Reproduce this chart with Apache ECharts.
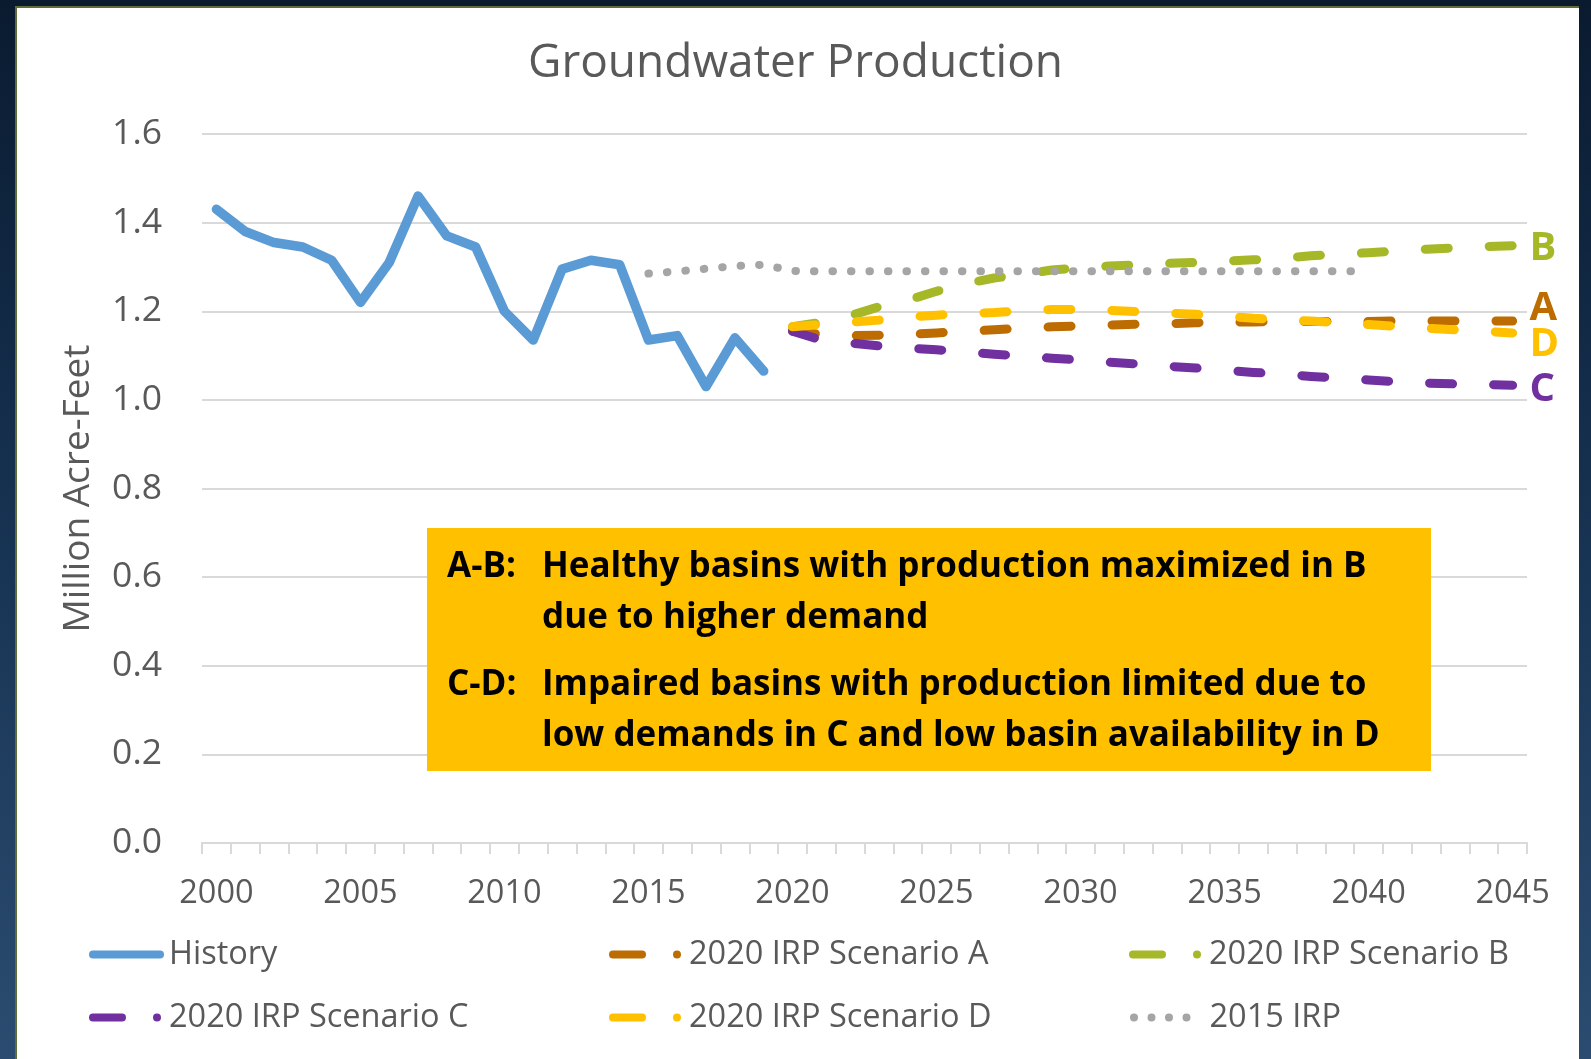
<!DOCTYPE html>
<html>
<head>
<meta charset="utf-8">
<script src="https://cdn.jsdelivr.net/npm/echarts@6/dist/echarts.min.js"></script>
<style>
html,body{margin:0;padding:0;width:1591px;height:1059px;overflow:hidden;}
body{background:linear-gradient(to bottom,#0a1b30 0%,#15304f 45%,#2b4c70 100%);position:relative;}
#panel{position:absolute;left:15px;top:6px;width:1564px;height:1060px;background:#fff;border-top:2px solid #5f6d36;border-left:2px solid #5f6d36;box-sizing:border-box;}
#chart{position:absolute;left:0;top:0;width:1591px;height:1059px;}
</style>
</head>
<body>
<div id="panel"></div>
<div id="chart"></div>
<script>
// ---- data ----
const years = ['2000','2001','2002','2003','2004','2005','2006','2007','2008','2009',
  '2010','2011','2012','2013','2014','2015','2016','2017','2018','2019',
  '2020','2021','2022','2023','2024','2025','2026','2027','2028','2029',
  '2030','2031','2032','2033','2034','2035','2036','2037','2038','2039',
  '2040','2041','2042','2043','2044','2045'];
const yTicks = [0, 0.2, 0.4, 0.6, 0.8, 1.0, 1.2, 1.4, 1.6];
// History 2000-2019
const history = [1.43,1.38,1.355,1.345,1.315,1.22,1.31,1.46,1.37,1.345,
  1.20,1.135,1.295,1.315,1.305,1.135,1.145,1.03,1.14,1.065];
// Scenarios 2020-2045
const scenarioA = [1.155,1.148,1.145,1.146,1.148,1.151,1.155,1.158,1.162,1.165,
  1.167,1.169,1.171,1.172,1.174,1.175,1.176,1.177,1.177,1.177,
  1.177,1.178,1.178,1.178,1.178,1.178];
const scenarioB = [1.165,1.175,1.19,1.21,1.225,1.245,1.262,1.275,1.283,1.293,
  1.298,1.302,1.305,1.308,1.31,1.313,1.316,1.32,1.325,1.329,
  1.332,1.336,1.34,1.343,1.346,1.348];
const scenarioC = [1.155,1.135,1.128,1.122,1.117,1.113,1.108,1.103,1.099,1.094,
  1.09,1.085,1.081,1.076,1.072,1.067,1.062,1.058,1.053,1.049,
  1.045,1.041,1.038,1.036,1.035,1.033];
const scenarioD = [1.165,1.17,1.175,1.18,1.187,1.191,1.195,1.197,1.201,1.204,
  1.204,1.202,1.199,1.196,1.193,1.189,1.184,1.181,1.178,1.174,
  1.17,1.166,1.162,1.158,1.155,1.151];
// 2015 IRP 2015-2040
const irp2015 = [1.285,1.29,1.296,1.302,1.305,1.291,1.29,1.29,1.29,1.29,
  1.29,1.29,1.29,1.29,1.29,1.29,1.29,1.29,1.29,1.29,
  1.29,1.29,1.29,1.29,1.29,1.29];
const seriesNames = ['History','2020 IRP Scenario A','2020 IRP Scenario B','2020 IRP Scenario C','2020 IRP Scenario D','2015 IRP'];
const endLetters = {A:'A', B:'B', C:'C', D:'D'};
const noteLines = [
  ['A-B:', 'Healthy basins with production maximized in B'],
  ['', 'due to higher demand'],
  ['C-D:', 'Impaired basins with production limited due to'],
  ['', 'low demands in C and low basin availability in D']
];

// ---- helpers ----
function place(values, startYear) {
  const out = years.map(() => null);
  const s = years.indexOf(String(startYear));
  values.forEach((v, i) => { out[s + i] = v; });
  return out;
}
const FONT = '"Open Sans", "Noto Sans", sans-serif';
const GREY = '#595959';
const COLORS = {hist:'#5B9BD5', A:'#BC6C00', B:'#A6B727', C:'#7030A0', D:'#FFC000', irp:'#A5A5A5'};

const ICON_BAR = 'path://M4,0 L71,0 A4,4 0 0 1 71,8 L4,8 A4,4 0 0 1 4,0 Z';
const ICON_DASHDOT = 'path://M4,0 L33,0 A4,4 0 0 1 33,8 L4,8 A4,4 0 0 1 4,0 Z M64,4 A4,4 0 1 0 72,4 A4,4 0 1 0 64,4 Z';
const ICON_DOTS = 'path://M0,4 A4,4 0 1 0 8,4 A4,4 0 1 0 0,4 Z M17.5,4 A4,4 0 1 0 25.5,4 A4,4 0 1 0 17.5,4 Z M35,4 A4,4 0 1 0 43,4 A4,4 0 1 0 35,4 Z M52.5,4 A4,4 0 1 0 60.5,4 A4,4 0 1 0 52.5,4 Z';

function legendItem(name, left, top, icon, w, padLeft) {
  return {
    data: [name], left: left, top: top, icon: icon,
    itemWidth: w, itemHeight: 8, itemGap: 0, padding: 0,
    selectedMode: false, symbolKeepAspect: false,
    itemStyle: {borderWidth: 0},
    textStyle: {fontFamily: FONT, fontSize: 32.5, color: GREY, padding: [0, 0, 0, padLeft]}
  };
}

const dashStyle = (color) => ({color: color, width: 9, type: [23, 41], cap: 'round', join: 'round'});
function endLabel(letter, color, offY) {
  return {show: true, formatter: letter, color: color, fontFamily: FONT, fontWeight: 'bold',
    fontSize: 40, distance: 17, offset: [0, offY]};
}

const chart = echarts.init(document.getElementById('chart'), null, {renderer: 'canvas'});
const option = {
  animation: false,
  backgroundColor: 'transparent',
  title: {
    text: 'Groundwater Production', left: 'center', top: 36,
    textStyle: {fontFamily: FONT, fontSize: 46, fontWeight: 'normal', color: GREY}
  },
  grid: {left: 202, right: 64, top: 134, bottom: 216, containLabel: false},
  xAxis: {
    type: 'category', data: years, boundaryGap: true,
    axisLine: {lineStyle: {color: '#d9d9d9', width: 2}},
    axisTick: {show: true, interval: 0, length: 11, lineStyle: {color: '#d9d9d9', width: 2}},
    axisLabel: {interval: (i) => i % 5 === 0, fontFamily: FONT, fontSize: 32.5, color: GREY, margin: 34},
    splitLine: {show: false}
  },
  yAxis: {
    type: 'value', min: yTicks[0], max: yTicks[yTicks.length - 1], interval: 0.2,
    name: 'Million Acre-Feet', nameLocation: 'middle', nameGap: 105,
    nameTextStyle: {fontFamily: FONT, fontSize: 37, color: GREY},
    axisLine: {show: false}, axisTick: {show: false},
    axisLabel: {formatter: (v) => v.toFixed(1), fontFamily: FONT, fontSize: 35.5, color: GREY, margin: 40, padding: [4, 0, 0, 0]},
    splitLine: {lineStyle: {color: '#d9d9d9', width: 2}}
  },
  legend: [
    legendItem(seriesNames[0], 89, 938, ICON_BAR, 75, 0),
    legendItem(seriesNames[1], 609, 938, ICON_DASHDOT, 72, 3),
    legendItem(seriesNames[2], 1129, 938, ICON_DASHDOT, 72, 3),
    legendItem(seriesNames[3], 89, 1001, ICON_DASHDOT, 72, 3),
    legendItem(seriesNames[4], 609, 1001, ICON_DASHDOT, 72, 3),
    legendItem(seriesNames[5], 1130, 1001, ICON_DOTS, 60.5, 14)
  ],
  graphic: [
    {type: 'rect', left: 427, top: 528, shape: {width: 1004, height: 243}, style: {fill: '#FFC000'}, z: 5},
    ...noteLines.flatMap((ln, i) => {
      const ys = [567, 618, 685, 736];
      const els = [];
      if (ln[0]) els.push({type: 'text', x: 447, y: ys[i], z: 6,
        style: {text: ln[0], fill: '#000', fontFamily: FONT, fontWeight: 'bold', fontSize: 35, verticalAlign: 'middle'}});
      els.push({type: 'text', x: 542, y: ys[i], z: 6,
        style: {text: ln[1], fill: '#000', fontFamily: FONT, fontWeight: 'bold', fontSize: 35, verticalAlign: 'middle'}});
      return els;
    })
  ],
  series: [
    {name: seriesNames[0], type: 'line', data: place(history, 2000), showSymbol: false, connectNulls: false,
      itemStyle: {color: COLORS.hist}, lineStyle: {color: COLORS.hist, width: 9.5, cap: 'round', join: 'round'}},
    {name: seriesNames[1], type: 'line', data: place(scenarioA, 2020), showSymbol: false,
      itemStyle: {color: COLORS.A}, lineStyle: dashStyle(COLORS.A), endLabel: endLabel(endLetters.A, COLORS.A, -12)},
    {name: seriesNames[2], type: 'line', data: place(scenarioB, 2020), showSymbol: false,
      itemStyle: {color: COLORS.B}, lineStyle: dashStyle(COLORS.B), endLabel: endLabel(endLetters.B, COLORS.B, 3)},
    {name: seriesNames[3], type: 'line', data: place(scenarioC, 2020), showSymbol: false,
      itemStyle: {color: COLORS.C}, lineStyle: dashStyle(COLORS.C), endLabel: endLabel(endLetters.C, COLORS.C, 4)},
    {name: seriesNames[4], type: 'line', data: place(scenarioD, 2020), showSymbol: false,
      itemStyle: {color: COLORS.D}, lineStyle: dashStyle(COLORS.D), endLabel: endLabel(endLetters.D, COLORS.D, 12)},
    {name: seriesNames[5], type: 'line', data: place(irp2015, 2015), showSymbol: false,
      itemStyle: {color: COLORS.irp}, lineStyle: {color: COLORS.irp, width: 8, type: [0.5, 18], cap: 'round'}}
  ]
};
chart.setOption(option);
</script>
</body>
</html>
